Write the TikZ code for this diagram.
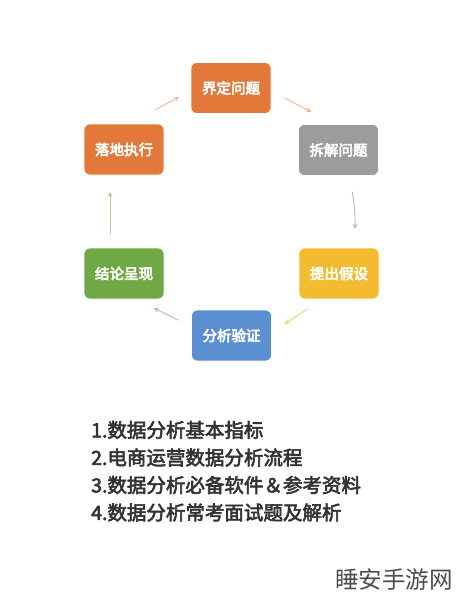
\documentclass[tikz,border=0pt]{standalone}
\usepackage{fontspec}
\newfontfamily\cjk{Noto Sans CJK SC}
\newfontfamily\cjkb[FakeBold=4]{Noto Sans CJK SC}
\newfontfamily\cjkm[FakeBold=3]{Noto Sans CJK SC}
\usetikzlibrary{arrows.meta}
\definecolor{corange}{HTML}{E2793A}
\definecolor{cgray}{HTML}{9C9C9C}
\definecolor{cyellow}{HTML}{F2BB30}
\definecolor{cblue}{HTML}{5C8FD2}
\definecolor{cgreen}{HTML}{70A846}
\definecolor{ctext}{HTML}{333333}
\tikzset{
  boxnode/.style={rounded corners=6pt, minimum width=80pt, minimum height=51pt, inner sep=0pt,
    text=white, font=\cjkb\fontsize{14.5}{15}\selectfont, draw=white, line width=0.6pt},
  cyc/.style={line width=0.9pt, -{Stealth[length=5pt,width=5pt]}, shorten <=2pt, shorten >=2pt},
  listtext/.style={anchor=west, inner sep=0pt, text=ctext, font=\cjkm\fontsize{19.5}{20}\selectfont},
}
\begin{document}
\begin{tikzpicture}[x=1pt,y=-1pt]
\useasboundingbox (0,0) rectangle (459,600);
\fill[white] (0,0) rectangle (459,600);
\node[boxnode, fill=corange] (a) at (231,88) {界定问题};
\node[boxnode, fill=cgray] (b) at (338.5,150) {拆解问题};
\node[boxnode, fill=cyellow] (c) at (339,273.5) {提出假设};
\node[boxnode, fill=cblue] (d) at (231.5,335.5) {分析验证};
\node[boxnode, fill=cgreen] (e) at (124,273.5) {结论呈现};
\node[boxnode, fill=corange] (f) at (124,149.5) {落地执行};
\coordinate (a1) at (283,97); \coordinate (a2) at (313,113);
\coordinate (b1) at (352,190); \coordinate (b2) at (355,231);
\coordinate (c1) at (309,308); \coordinate (c2) at (283,325);
\coordinate (d1) at (180,321); \coordinate (d2) at (152,307);
\coordinate (e1) at (110,236); \coordinate (e2) at (110,190);
\coordinate (f1) at (153,111); \coordinate (f2) at (181,96);
\draw[cyc, draw=corange!55] (a1) -- (a2);
\draw[cyc, draw=cgray!70] (b1) to[bend left=5] (b2);
\draw[cyc, draw=cyellow!70] (c1) -- (c2);
\draw[cyc, draw=cblue!60] (d1) -- (d2);
\draw[cyc, draw=cgreen!55] (e1) -- (e2);
\draw[cyc, draw=corange!50] (f1) -- (f2);
\node[listtext] (l1) at (91,430) {1.数据分析基本指标};
\node[listtext] (l2) at (91,457.5) {2.电商运营数据分析流程};
\node[listtext] (l3) at (91,485) {3.数据分析必备软件＆参考资料};
\node[listtext] (l4) at (91,512.5) {4.数据分析常考面试题及解析};
\node[anchor=west, inner sep=0pt, text=black!70, font=\cjk\fontsize{23.5}{24}\selectfont] (w) at (335,580) {睡安手游网};
\end{tikzpicture}
\end{document}
